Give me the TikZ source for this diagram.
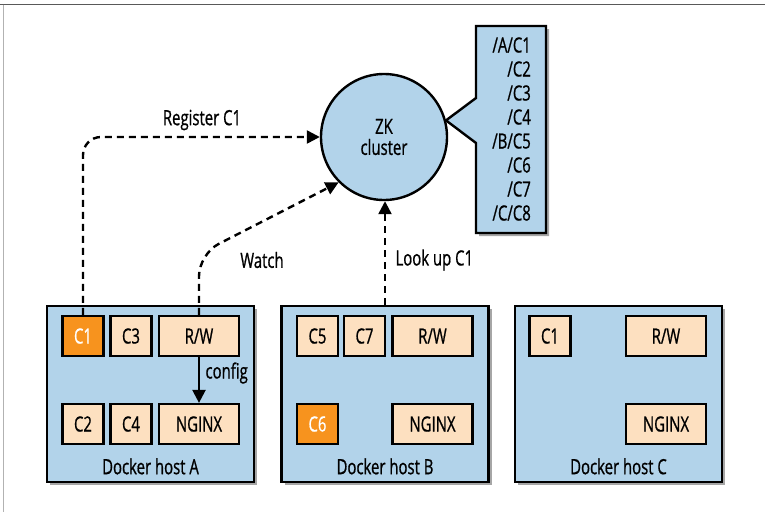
\documentclass[tikz,border=0pt]{standalone}
\usepackage{fontspec}
\setmainfont{Open Sans}[FakeStretch=0.71,FakeBold=0.8]
\usetikzlibrary{arrows.meta,shadows}
\definecolor{hostblue}{RGB}{178,211,234}
\definecolor{boxpeach}{RGB}{253,224,192}
\definecolor{hotorange}{RGB}{247,147,30}
\tikzset{
  shade box/.style={drop shadow={shadow xshift=3pt,shadow yshift=-3pt,opacity=.35,fill=black}},
  host/.style={draw, line width=2.4pt, fill=hostblue, minimum width=207pt, minimum height=176pt, inner sep=0pt, shade box},
  ctr/.style={draw, line width=2.2pt, fill=boxpeach, minimum height=40pt, minimum width=41pt, inner sep=0pt},
  wide/.style={ctr, minimum width=80pt},
  hot/.style={ctr, fill=hotorange, text=white},
  flow/.style={line width=2.4pt, dash pattern=on 7pt off 5pt, -{Triangle[length=13pt,width=13pt]}},
}
\begin{document}
\begin{tikzpicture}[x=1pt, y=-1pt, font=\fontsize{21}{24}\selectfont]
      \useasboundingbox (0,0) rectangle (765,512);
      \draw [line width=1.5pt, gray!70!black] (0,4.5) -- (765,4.5);
      \draw [line width=1.2pt, gray!60]       (3.5,4.5) -- (3.5,512);
      % hosts
      \node [host] (hosta) at (150.5,394) {};
      \node [host] (hostb) at (385,394) {};
      \node [host] (hostc) at (618.5,394) {};
      \node [anchor=base] (laba) at ([yshift=9pt]hosta.south) {Docker host A};
      \node [anchor=base] (labb) at ([yshift=9pt]hostb.south) {Docker host B};
      \node [anchor=base] (labc) at ([yshift=9pt]hostc.south) {Docker host C};
      % containers
      \node [hot]  (c1a)  at (83,336)    {C1};
      \node [ctr]  (c3a)  at (131,336)   {C3};
      \node [wide] (rwa)  at (199,336)   {R/W};
      \node [ctr]  (c2a)  at (83,424)    {C2};
      \node [ctr]  (c4a)  at (131,424)   {C4};
      \node [wide] (ngxa) at (199,424)   {NGINX};
      \node [ctr]  (c5b)  at (317.5,336) {C5};
      \node [ctr]  (c7b)  at (364.5,336) {C7};
      \node [wide] (rwb)  at (432.5,336) {R/W};
      \node [hot]  (c6b)  at (317.5,424) {C6};
      \node [wide] (ngxb) at (432.5,424) {NGINX};
      \node [ctr]  (c1c)  at (550,336)   {C1};
      \node [wide] (rwc)  at (666,336)   {R/W};
      \node [wide] (ngxc) at (666,424)   {NGINX};
      % zookeeper
      \node [circle, draw, line width=2.4pt, fill=hostblue, minimum size=126pt, align=center,
             font=\fontsize{21}{21}\selectfont] (zk) at (384,137) {ZK\\cluster};
      \draw [line width=2.4pt, fill=hostblue, shade box]
            (476,26) -- (546,26) -- (546,233) -- (476,233) -- (476,143)
            -- (zk.15) -- (476,98) -- cycle;
      \node [anchor=east, align=right, inner sep=0pt] (zklist) at (531,129)
            {/A/C1\\/C2\\/C3\\/C4\\/B/C5\\/C6\\/C7\\/C/C8};
      % connectors
      \coordinate (bend) at (199,254);
      \draw [flow, rounded corners=18pt] (c1a.north) |- (zk.west);
      \draw [flow, rounded corners=22pt] (rwa.north) -- (bend) -- (zk.south west);
      \draw [flow] (hostb.north) -- (hostb.north |- zk.south);
      \draw [line width=2.2pt, -{Triangle[length=13pt,width=13pt]}] (rwa) -- (ngxa);
      \node (lreg)   at (202,120) {Register C1};
      \node (lwatch) at (262,260) {Watch};
      \node [anchor=west] (llook) at (392,260) {Look up C1};
      \node [anchor=west] (lconf) at (202,373) {config};
\end{tikzpicture}
\end{document}
